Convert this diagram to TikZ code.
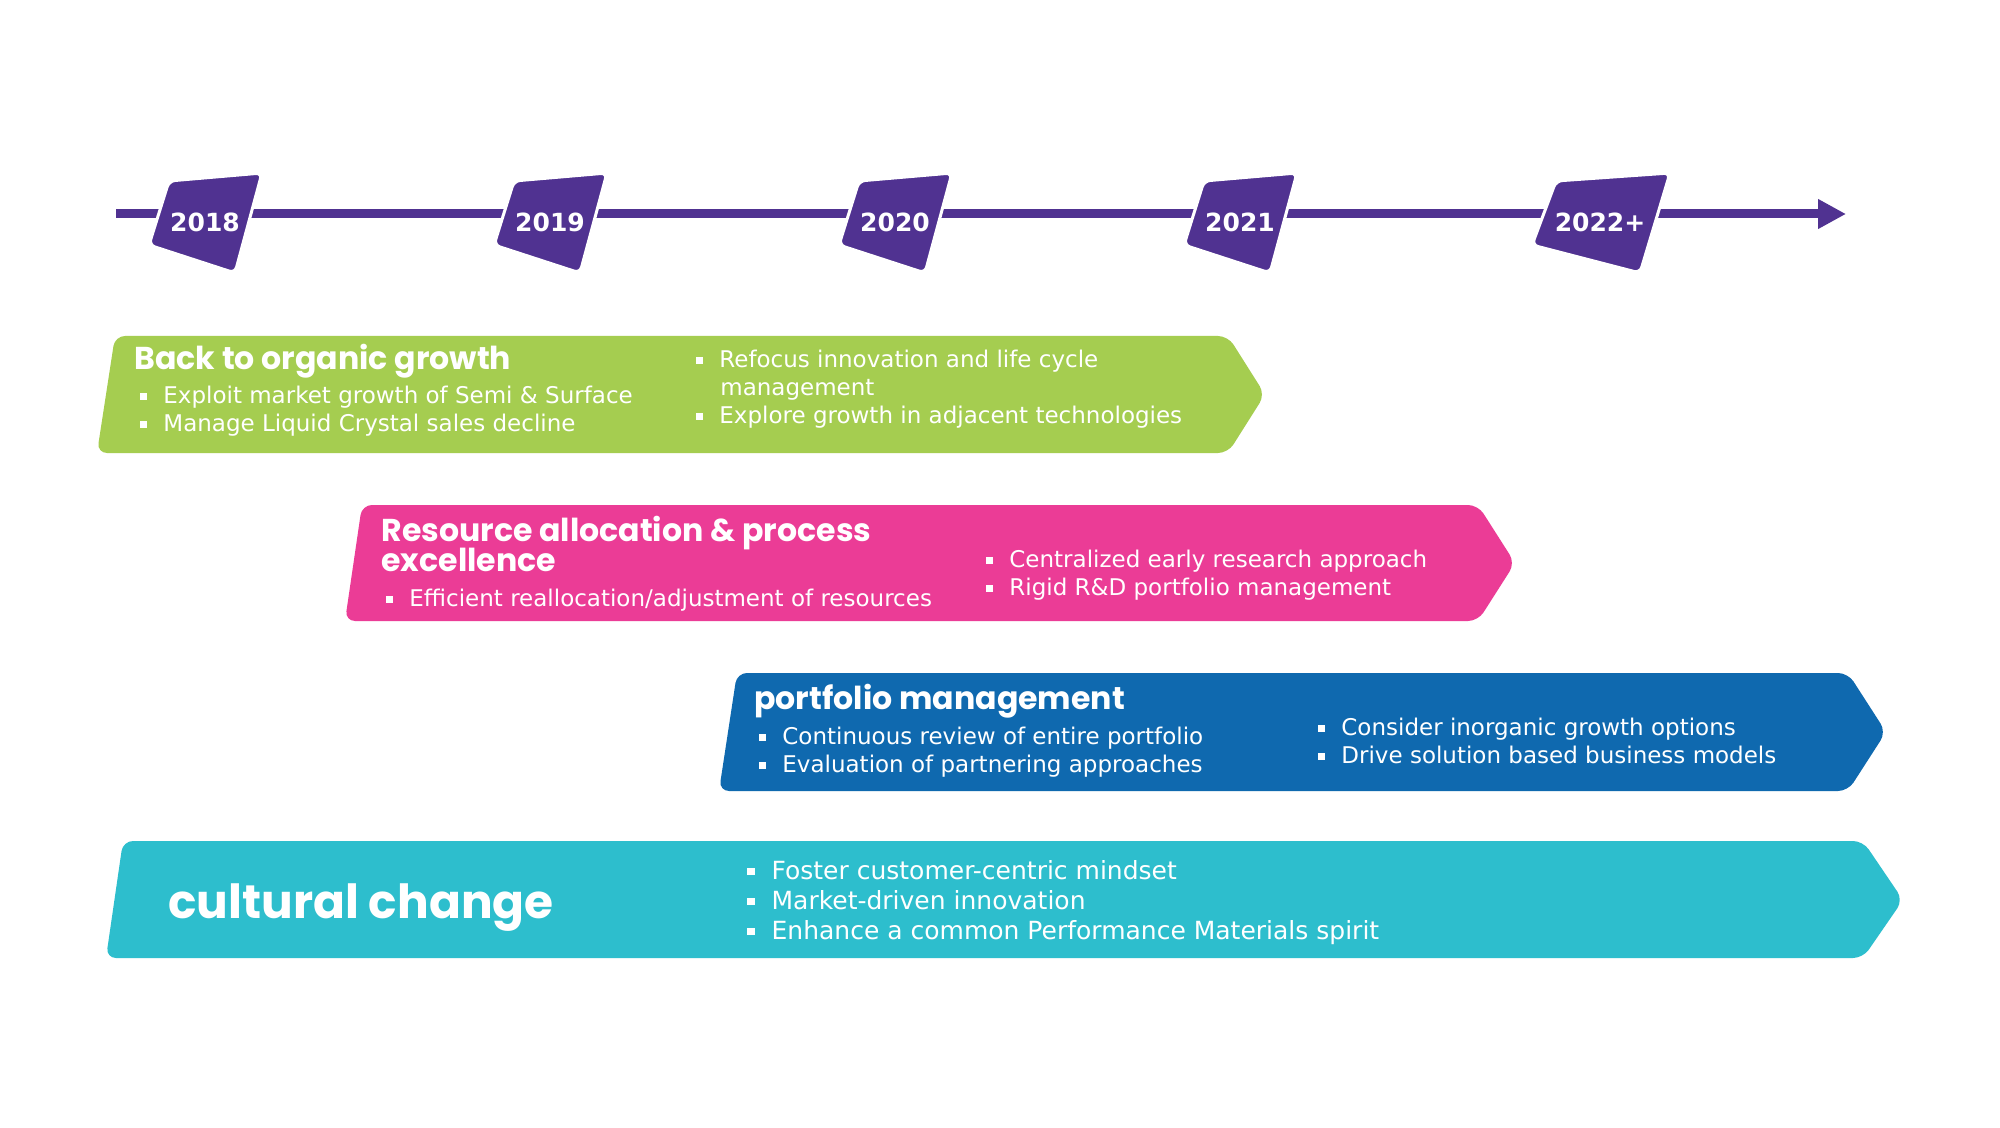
\documentclass[tikz,border=0pt]{standalone}
\usepackage{fontspec}
\setmainfont{DejaVu Sans}
\newfontfamily\headfont{Poppins}
\usetikzlibrary{arrows.meta}
\definecolor{mpurple}{HTML}{503291}
\definecolor{mgreen}{HTML}{A5CD50}
\definecolor{mpink}{HTML}{EB3C96}
\definecolor{mblue}{HTML}{0F69AF}
\definecolor{mcyan}{HTML}{2DBECD}
\newcommand\bul{\rule[1.75pt]{3.5pt}{3.5pt}\hspace{8pt}}
\newcommand\bigbul{\rule[1.9pt]{3.6pt}{3.6pt}\hspace{8.5pt}}
\begin{document}
\begin{tikzpicture}[x=0.5pt,y=-0.5pt,
  body/.style={anchor=base west, inner sep=0pt, text=white, font=\fontsize{11.5pt}{14pt}\selectfont},
  bigbody/.style={anchor=base west, inner sep=0pt, text=white, font=\fontsize{12.5pt}{15pt}\selectfont},
  head/.style={anchor=base west, inner sep=0pt, text=white, font=\headfont\bfseries\fontsize{15.8pt}{18pt}\selectfont},
  bighead/.style={anchor=base west, inner sep=0pt, text=white, font=\headfont\bfseries\fontsize{23.5pt}{26pt}\selectfont},
  year/.style={inner sep=0pt, text=white, font=\bfseries\fontsize{12.5pt}{14pt}\selectfont},
  banner/.style={rounded corners=5pt},
  yrmark/.style={fill=mpurple, draw=white, line width=1.5pt, rounded corners=3pt}]
\useasboundingbox[fill=white] (0,0) rectangle (2000,1128);

% timeline
\coordinate (tl0) at (116,214);
\coordinate (tl1) at (1846,214);
\draw[mpurple, line width=4.5pt, -{Triangle[length=14pt,width=14pt]}] (tl0) -- (tl1);

% year markers
\coordinate (c18) at (205,222);
\coordinate (c19) at (550,222);
\coordinate (c20) at (895,222);
\coordinate (c21) at (1240,222);
\coordinate (c22) at (1600,222);
\foreach \c in {c18,c19,c20,c21}{
  \path[yrmark] ([shift={(-36,-41)}]\c) -- ([shift={(57,-49)}]\c) -- ([shift={(30,51)}]\c) -- ([shift={(-56,23)}]\c) -- cycle;
}
\path[yrmark] ([shift={(-44,-41)}]c22) -- ([shift={(70,-49)}]c22) -- ([shift={(40,51)}]c22) -- ([shift={(-68,23)}]c22) -- cycle;
\node[year] (y18) at (c18) {2018};
\node[year] (y19) at (c19) {2019};
\node[year] (y20) at (c20) {2020};
\node[year] (y21) at (c21) {2021};
\node[year] (y22) at (c22) {2022+};

% banner 1
\path[fill=mgreen, banner] (115,336) -- (1228,336) -- (1265,394.5) -- (1228,453) -- (97,453) -- cycle;
\node[head] (h1) at (134,369) {Back to organic growth};
\node[body] (b11) at (140,403) {\bul Exploit market growth of Semi \& Surface};
\node[body] (b12) at (140,431) {\bul Manage Liquid Crystal sales decline};
\node[body] (b13) at (696,367) {\bul Refocus innovation and life cycle};
\node[body] (b13b) at (720,395) {management};
\node[body] (b14) at (696,423) {\bul Explore growth in adjacent technologies};

% banner 2
\path[fill=mpink, banner] (362,505) -- (1478,505) -- (1515,563) -- (1478,621) -- (345,621) -- cycle;
\node[head] (h2) at (381,541) {Resource allocation \& process};
\node[head] (h2b) at (381,571) {excellence};
\node[body] (b21) at (386,606) {\bul Efficient reallocation/adjustment of resources};
\node[body] (b22) at (986,567) {\bul Centralized early research approach};
\node[body] (b23) at (986,595) {\bul Rigid R\&D portfolio management};

% banner 3
\path[fill=mblue, banner] (737,673) -- (1848,673) -- (1886,732) -- (1848,791) -- (719,791) -- cycle;
\node[head] (h3) at (754,709) {portfolio management};
\node[body] (b31) at (759,744) {\bul Continuous review of entire portfolio};
\node[body] (b32) at (759,772) {\bul Evaluation of partnering approaches};
\node[body] (b33) at (1318,735) {\bul Consider inorganic growth options};
\node[body] (b34) at (1318,763) {\bul Drive solution based business models};

% banner 4
\path[fill=mcyan, banner] (123,841) -- (1863,841) -- (1903,900) -- (1863,958) -- (106,958) -- cycle;
\node[bighead] (h4) at (168,918) {cultural change};
\node[bigbody] (b41) at (747,879) {\bigbul Foster customer-centric mindset};
\node[bigbody] (b42) at (747,909) {\bigbul Market-driven innovation};
\node[bigbody] (b43) at (747,939) {\bigbul Enhance a common Performance Materials spirit};
\end{tikzpicture}
\end{document}
